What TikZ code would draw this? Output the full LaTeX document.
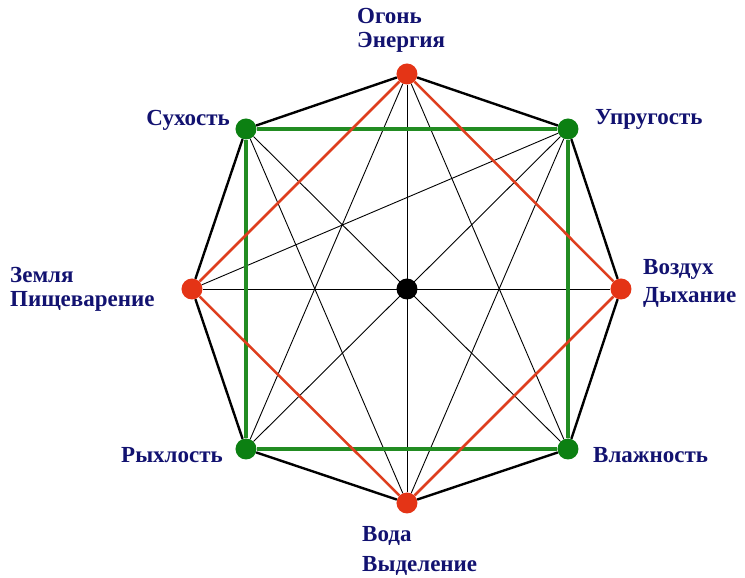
\documentclass[tikz,border=0pt]{standalone}
\usepackage{fontspec}
\setmainfont{Liberation Serif}
\usetikzlibrary{positioning}
\definecolor{DotRed}{RGB}{228,52,22}
\definecolor{LineRed}{RGB}{222,62,30}
\definecolor{DotGreen}{RGB}{12,128,18}
\definecolor{LineGreen}{RGB}{34,140,34}
\definecolor{LabelNavy}{RGB}{18,18,112}

\begin{document}
\begin{tikzpicture}[x=1pt,y=1pt,
    dot/.style={circle,fill=#1,inner sep=0pt,minimum size=21pt},
    lbl/.style={text=LabelNavy,font=\bfseries\fontsize{23}{24}\selectfont,
      align=left,inner sep=0pt},
    fine/.style={black,line width=0.9pt},
    rim/.style={black,line width=2.4pt},
    redsq/.style={LineRed,line width=2.5pt},
    greensq/.style={LineGreen,line width=3.2pt}]
  \useasboundingbox (-407,-289) rectangle (338,289);
  % stikhii
  \node[dot=DotRed] (ogon) at (0,215) {};
  \node[dot=DotRed] (voda) at (0,-214) {};
  \node[dot=DotRed] (zemlya) at (-215,0) {};
  \node[dot=DotRed] (vozduh) at (214,0) {};
  % kachestva
  \node[dot=DotGreen] (suh) at (-161,160) {};
  \node[dot=DotGreen] (upr) at (161,160) {};
  \node[dot=DotGreen] (ryh) at (-161,-160) {};
  \node[dot=DotGreen] (vlazh) at (161,-160) {};
  \node[dot=black] (centr) at (0,0) {};
  % tonkie linii
  \draw[fine] (zemlya) -- (vozduh) (ogon) -- (voda);
  \draw[fine] (suh) -- (vlazh) (upr) -- (ryh);
  \draw[fine] (ogon) -- (ryh) (ogon) -- (vlazh);
  \draw[fine] (voda) -- (suh) (voda) -- (upr);
  \draw[fine] (zemlya) -- (upr);
  % vosmiugolnik i kvadraty
  \draw[rim] (ogon) -- (upr) -- (vozduh) -- (vlazh) -- (voda)
    -- (ryh) -- (zemlya) -- (suh) -- (ogon);
  \draw[greensq] (suh) -- (upr) -- (vlazh) -- (ryh) -- (suh);
  \draw[redsq] (ogon) -- (vozduh) -- (voda) -- (zemlya) -- (ogon);
  % podpisi
  \node[lbl,anchor=base west] (ogonT) at (-50,241) {Огонь\\Энергия};
  \node[lbl,anchor=base west] (vodaT) at (-45,-283) {Вода\\[6pt]Выделение};
  \node[lbl,anchor=base west] (zemlyaT) at (-397,-18) {Земля\\Пищеварение};
  \node[lbl,anchor=base west] (vozduhT) at (236,-14) {Воздух\\[4pt]Дыхание};
  \node[lbl,anchor=base east] (suhT) at (-177,163) {Сухость};
  \node[lbl,anchor=base west] (uprT) at (188,164) {Упругость};
  \node[lbl,anchor=base east] (ryhT) at (-184,-174) {Рыхлость};
  \node[lbl,anchor=base west] (vlazhT) at (186,-174) {Влажность};
\end{tikzpicture}
\end{document}
